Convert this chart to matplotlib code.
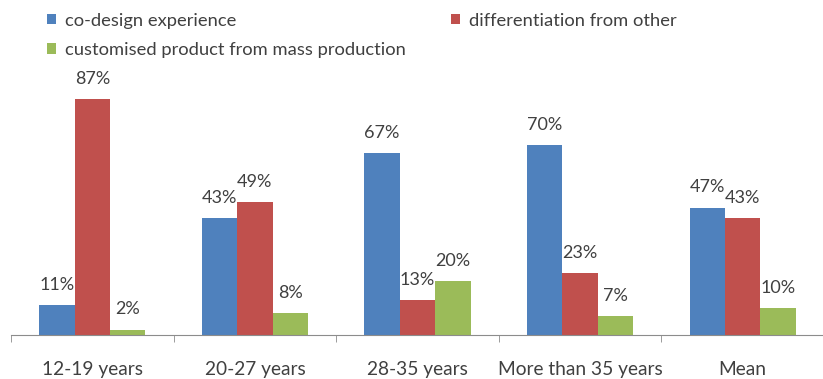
import matplotlib as mpl
mpl.use('Agg')
import matplotlib.pyplot as plt
import numpy as np

plt.rcParams['font.family'] = ['Lato', 'DejaVu Sans']

categories = ['12-19 years', '20-27 years', '28-35 years',
              'More than 35 years', 'Mean']
series_names = ['co-design experience', 'differentiation from other',
                'customised product from mass production']
co_design = [11, 43, 67, 70, 47]
differentiation = [87, 49, 13, 23, 43]
customised = [2, 8, 20, 7, 10]

COLORS = ['#4F81BD', '#C0504D', '#9BBB59']
TEXT_COLOR = '#404040'
AXIS_COLOR = '#8c8c8c'

W, H = 823, 379
fig = plt.figure(figsize=(W / 100, H / 100), dpi=100)
# axes box in pixels: x from 11 to 824, baseline at 335, 100% at 64
ax = fig.add_axes([11 / W, 1 - 335 / H, 813 / W, 271 / H])

x = np.arange(len(categories))
width = 0.218
bars = []
for i, (vals, color) in enumerate(zip([co_design, differentiation, customised],
                                      COLORS)):
    b = ax.bar(x + (i - 1) * width, vals, width, color=color,
               label=series_names[i], zorder=2)
    bars.append(b)
    for rect, v in zip(b, vals):
        ax.annotate('%d%%' % v,
                    (rect.get_x() + rect.get_width() / 2, rect.get_height()),
                    xytext=(0, 14.5), textcoords='offset points',
                    ha='center', va='center', fontsize=13, color=TEXT_COLOR)

ax.set_xlim(-0.5, len(categories) - 0.5)
ax.set_ylim(0, 100)

# Boundary tick marks between categories, labels centred under groups.
ax.set_xticks(x)
ax.set_xticklabels(categories, fontsize=13.8, color=TEXT_COLOR)
ax.set_xticks(np.arange(-0.5, len(categories)), minor=True)
ax.tick_params(axis='x', which='major', length=0, pad=19)
ax.tick_params(axis='x', which='minor', length=5, color=AXIS_COLOR,
               direction='out')
ax.set_yticks([])
for side in ['top', 'right', 'left']:
    ax.spines[side].set_visible(False)
ax.spines['bottom'].set_color(AXIS_COLOR)

handles = [bars[0], bars[2], bars[1]]
labels = [series_names[0], series_names[2], series_names[1]]
leg = fig.legend(handles, labels, ncol=2, loc='upper left',
                 bbox_to_anchor=(32 / W, 1 + 2 / H), frameon=False,
                 fontsize=13.2, handlelength=0.5, handleheight=0.5,
                 handletextpad=0.5, columnspacing=2.45, labelspacing=0.72,
                 labelcolor=TEXT_COLOR, borderpad=0.3)

fig.savefig('out.png', dpi=100)
